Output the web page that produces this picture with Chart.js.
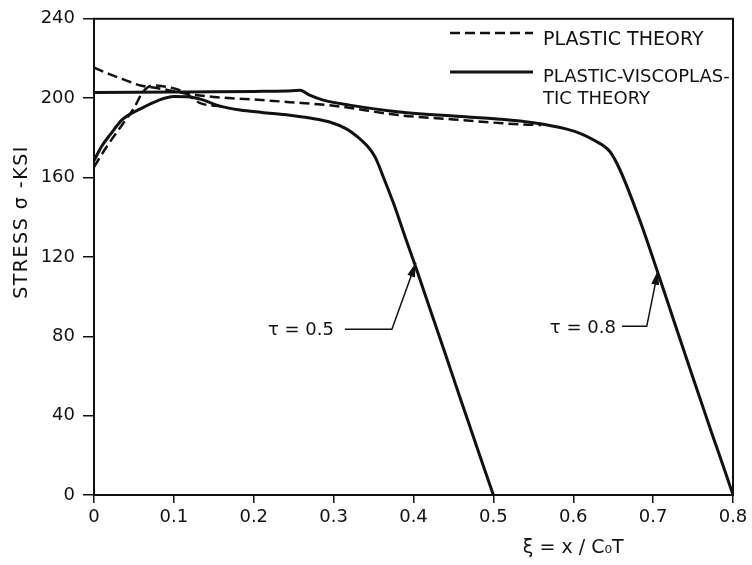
<!DOCTYPE html>
<html>
<head>
<meta charset="utf-8">
<script src="https://cdn.jsdelivr.net/npm/chart.js@4/dist/chart.umd.min.js"></script>
<style>
  html, body { margin: 0; padding: 0; background: #fff; }
  #wrap { width: 752px; height: 565px; }
</style>
</head>
<body>
<div id="wrap"><canvas id="stressChart" width="752" height="565"></canvas></div>
<script>
// xi = x / C0 T, stress in ksi
var xiVisc05 = [0, 0.01, 0.02, 0.036, 0.06, 0.08, 0.1, 0.12, 0.133, 0.158, 0.183, 0.21, 0.245, 0.27, 0.295, 0.316, 0.33, 0.341, 0.352, 0.362, 0.375, 0.39, 0.404, 0.42, 0.442, 0.46, 0.474, 0.488, 0.5];
var stressVisc05 = [168.5, 176, 181.5, 189.4, 195, 198.8, 200.8, 200.6, 199.5, 196, 194, 192.8, 191.4, 190, 188, 184.5, 180.5, 176.4, 170.3, 160.5, 147, 129.5, 113.5, 94.5, 68.5, 47, 30.5, 14, 0];

var xiPlastic05 = [0, 0.015, 0.036, 0.05, 0.061, 0.074, 0.09, 0.111, 0.133, 0.16];
var stressPlastic05 = [165.3, 175, 187, 195, 203, 206.4, 205.8, 203.4, 197.5, 195.8];

var xiVisc08 = [0, 0.05, 0.1, 0.15, 0.2, 0.24, 0.258, 0.27, 0.287, 0.32, 0.383, 0.45, 0.508, 0.55, 0.592, 0.61, 0.625, 0.646, 0.658, 0.683, 0.708, 0.725, 0.742, 0.758, 0.774, 0.79, 0.8];
var stressVisc08 = [202.9, 203, 203.1, 203.2, 203.4, 203.6, 204, 201.5, 199, 196.5, 193, 191, 189.4, 187.6, 184.4, 182, 179, 173, 164.3, 138.8, 109.5, 89, 68.5, 49.5, 30.5, 12, 0];

var xiPlastic08 = [0, 0.02, 0.04, 0.058, 0.08, 0.1, 0.12, 0.15, 0.2, 0.245, 0.3, 0.383, 0.45, 0.533, 0.56];
var stressPlastic08 = [215.4, 212, 209, 206.4, 205, 203.5, 202, 200.6, 199.3, 198, 196.2, 191.4, 189.3, 186.8, 186.5];

var yTicks = [0, 40, 80, 120, 160, 200, 240];
var xTicks = [0, 0.1, 0.2, 0.3, 0.4, 0.5, 0.6, 0.7, 0.8];

function pts(xs, ys) {
  return xs.map(function (x, i) { return { x: x, y: ys[i] }; });
}

var ink = '#111';
var FONT = '"DejaVu Sans", "Liberation Sans", sans-serif';

// legend, axis titles, box and tau labels drawn by hand
var paperPlugin = {
  id: 'paper',
  afterDraw: function (chart) {
    var ctx = chart.ctx;
    var a = chart.chartArea;
    var xs = chart.scales.x, ys = chart.scales.y;
    ctx.save();
    ctx.strokeStyle = ink;
    ctx.fillStyle = ink;

    // frame
    ctx.lineWidth = 2;
    ctx.strokeRect(a.left, a.top, a.right - a.left, a.bottom - a.top);

    // legend
    ctx.lineWidth = 2.5;
    ctx.setLineDash([10, 5]);
    ctx.beginPath(); ctx.moveTo(450, 33); ctx.lineTo(533, 33); ctx.stroke();
    ctx.setLineDash([]);
    ctx.lineWidth = 3;
    ctx.beginPath(); ctx.moveTo(450, 72); ctx.lineTo(533, 72); ctx.stroke();
    ctx.font = '19px ' + FONT;
    ctx.textAlign = 'left';
    ctx.textBaseline = 'middle';
    ctx.fillText('PLASTIC THEORY', 543, 40);
    ctx.font = '18px ' + FONT;
    ctx.fillText('PLASTIC-VISCOPLAS-', 543, 77);
    ctx.fillText('TIC THEORY', 543, 99);

    // tau labels with arrows
    var notes = [
      { text: '\u03C4 = 0.5', tx: 0.259, ty: 83, x0: 0.314, x1: 0.373, ly: 83.5, px: 0.403, py: 117 },
      { text: '\u03C4 = 0.8', tx: 0.612, ty: 84, x0: 0.661, x1: 0.692, ly: 85, px: 0.706, py: 113 }
    ];
    ctx.font = '18px ' + FONT;
    ctx.textAlign = 'center';
    notes.forEach(function (n) {
      ctx.fillText(n.text, xs.getPixelForValue(n.tx), ys.getPixelForValue(n.ty));
      var sx = xs.getPixelForValue(n.x0), ex = xs.getPixelForValue(n.x1);
      var ly = ys.getPixelForValue(n.ly);
      var tx = xs.getPixelForValue(n.px), ty = ys.getPixelForValue(n.py);
      ctx.lineWidth = 1.5;
      ctx.beginPath();
      ctx.moveTo(sx, ly); ctx.lineTo(ex, ly); ctx.lineTo(tx, ty);
      ctx.stroke();
      var ang = Math.atan2(ty - ly, tx - ex);
      ctx.beginPath();
      ctx.moveTo(tx, ty);
      ctx.lineTo(tx - 14 * Math.cos(ang) + 4 * Math.sin(ang), ty - 14 * Math.sin(ang) - 4 * Math.cos(ang));
      ctx.lineTo(tx - 14 * Math.cos(ang) - 4 * Math.sin(ang), ty - 14 * Math.sin(ang) + 4 * Math.cos(ang));
      ctx.closePath();
      ctx.fill();
    });

    // y title
    ctx.save();
    ctx.translate(22, 222);
    ctx.rotate(-Math.PI / 2);
    ctx.font = '19px ' + FONT;
    ctx.letterSpacing = '1.5px';
    ctx.textAlign = 'center';
    ctx.fillText('STRESS \u03C3 -KSI', 0, 0);
    ctx.restore();

    // x title
    ctx.font = '19px ' + FONT;
    ctx.textAlign = 'center';
    ctx.fillText('\u03BE = x / C\u2080T', xs.getPixelForValue(0.6), 548);
    ctx.restore();
  }
};

new Chart(document.getElementById('stressChart'), {
  type: 'line',
  data: {
    datasets: [
      { label: 'PLASTIC THEORY', data: pts(xiPlastic08, stressPlastic08), borderColor: ink, borderWidth: 2.5, borderDash: [10, 5] },
      { label: 'PLASTIC THEORY', data: pts(xiPlastic05, stressPlastic05), borderColor: ink, borderWidth: 2.5, borderDash: [10, 5] },
      { label: 'PLASTIC-VISCOPLASTIC THEORY', data: pts(xiVisc08, stressVisc08), borderColor: ink, borderWidth: 3 },
      { label: 'PLASTIC-VISCOPLASTIC THEORY', data: pts(xiVisc05, stressVisc05), borderColor: ink, borderWidth: 3 }
    ]
  },
  options: {
    responsive: false,
    animation: false,
    elements: {
      point: { radius: 0 },
      line: { cubicInterpolationMode: 'monotone', fill: false }
    },
    layout: { padding: { top: 16, right: 19, left: 0, bottom: 0 } },
    plugins: { legend: { display: false }, tooltip: { enabled: false } },
    scales: {
      x: {
        type: 'linear', min: 0, max: 0.8,
        afterBuildTicks: function (s) { s.ticks = xTicks.map(function (v) { return { value: v }; }); },
        afterFit: function (s) { s.height = 70; },
        grid: { drawOnChartArea: false, drawTicks: true, tickLength: 8, color: ink, lineWidth: 1.5 },
        border: { display: true, color: ink, width: 2 },
        ticks: {
          color: ink, padding: 4, maxRotation: 0,
          font: { family: FONT, size: 18 },
          callback: function (v) { return v === 0 ? '0' : v.toFixed(1); }
        }
      },
      y: {
        min: 0, max: 240,
        afterBuildTicks: function (s) { s.ticks = yTicks.map(function (v) { return { value: v }; }); },
        afterFit: function (s) { s.width = 94; },
        grid: { drawOnChartArea: false, drawTicks: true, tickLength: 11, color: ink, lineWidth: 1.5 },
        border: { display: true, color: ink, width: 2 },
        ticks: { color: ink, padding: 8, font: { family: FONT, size: 18 } }
      }
    }
  },
  plugins: [paperPlugin]
});
</script>
</body>
</html>
